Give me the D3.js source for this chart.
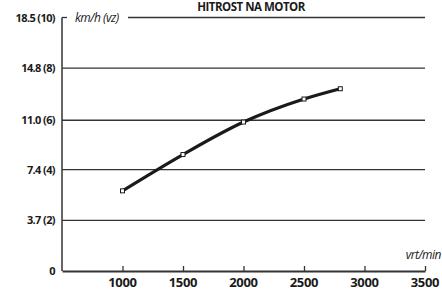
<!DOCTYPE html>
<html>
<head>
<meta charset="utf-8">
<script src="https://cdn.jsdelivr.net/npm/d3@7"></script>
<style>
  body { margin: 0; background: #fff; }
  text { font-family: "Open Sans", Lato, sans-serif; fill: #1a1a1a; }
</style>
</head>
<body>
<script>
// data
var rpm = [1000, 1500, 2000, 2500, 2800];
var speed = [5.85, 8.5, 10.87, 12.55, 13.3];
var yTicks = [0, 3.7, 7.4, 11.0, 14.8, 18.5];
var yTickLabels = ["0", "3.7 (2)", "7.4 (4)", "11.0 (6)", "14.8 (8)", "18.5 (10)"];
var xTicks = [1000, 1500, 2000, 2500, 3000, 3500];

var width = 442, height = 289;

var x = d3.scaleLinear().domain([500, 3500]).range([62, 425]);
var y = d3.scaleLinear().domain([0, 18.5]).range([271, 17.5]);

var svg = d3.select("body").append("svg")
    .attr("width", width)
    .attr("height", height);

// title
svg.append("text")
    .attr("x", 251)
    .attr("y", 11)
    .attr("text-anchor", "middle")
    .style("font-size", "11.5px")
    .style("font-weight", "bold")
    .style("letter-spacing", "-0.5px")
    .text("HITROST NA MOTOR");

// gridlines (skip 0 and top)
svg.selectAll(".grid")
    .data(yTicks.slice(1, 5))
    .enter().append("line")
    .attr("class", "grid")
    .attr("x1", x(500)).attr("x2", x(3500))
    .attr("y1", d => y(d)).attr("y2", d => y(d))
    .attr("stroke", "#333")
    .attr("stroke-width", 1.3);

// top line with gap for unit label
svg.append("line")
    .attr("x1", x(500)).attr("x2", x(500) + 5)
    .attr("y1", y(18.5)).attr("y2", y(18.5))
    .attr("stroke", "#333").attr("stroke-width", 1.3);
svg.append("line")
    .attr("x1", 128).attr("x2", x(3500))
    .attr("y1", y(18.5)).attr("y2", y(18.5))
    .attr("stroke", "#333").attr("stroke-width", 1.3);
svg.append("text")
    .attr("x", 75)
    .attr("y", 21.5)
    .style("font-size", "12px")
    .style("font-style", "italic")
    .style("letter-spacing", "-0.5px")
    .text("km/h (vz)");

// y axis line
svg.append("line")
    .attr("x1", x(500)).attr("x2", x(500))
    .attr("y1", y(18.5)).attr("y2", y(0))
    .attr("stroke", "#333").attr("stroke-width", 1.5);

// x axis
var xAxis = d3.axisTop(x)
    .tickValues(xTicks)
    .tickSize(5)
    .tickSizeOuter(0)
    .tickFormat("");
var gx = svg.append("g")
    .attr("transform", "translate(0," + y(0) + ")")
    .call(xAxis);
gx.select(".domain").attr("stroke", "#333").attr("stroke-width", 1.8);
gx.selectAll(".tick line").attr("stroke", "#333").attr("stroke-width", 1.3);

svg.selectAll(".xlab")
    .data(xTicks)
    .enter().append("text")
    .attr("class", "xlab")
    .attr("x", d => x(d))
    .attr("y", 286.5)
    .attr("text-anchor", "middle")
    .style("font-size", "13px")
    .style("font-weight", "bold")
    .style("letter-spacing", "-0.3px")
    .text(d => d);

svg.append("text")
    .attr("x", 441)
    .attr("y", 259)
    .attr("text-anchor", "end")
    .style("font-size", "12px")
    .style("font-style", "italic")
    .style("letter-spacing", "-0.5px")
    .text("vrt/min");

// y tick labels
svg.selectAll(".ylab")
    .data(yTicks)
    .enter().append("text")
    .attr("class", "ylab")
    .attr("x", 55)
    .attr("y", d => y(d) + 4)
    .attr("text-anchor", "end")
    .style("font-size", "11px")
    .style("font-weight", "bold")
    .style("letter-spacing", "-0.6px")
    .text((d, i) => yTickLabels[i]);

// line
var pts = rpm.map((r, i) => [r, speed[i]]);
var line = d3.line()
    .x(d => x(d[0]))
    .y(d => y(d[1]))
    .curve(d3.curveMonotoneX);
svg.append("path")
    .datum(pts)
    .attr("d", line)
    .attr("fill", "none")
    .attr("stroke", "#1a1a1a")
    .attr("stroke-width", 3.2);

svg.selectAll(".pt")
    .data(pts)
    .enter().append("rect")
    .attr("class", "pt")
    .attr("x", d => x(d[0]) - 2)
    .attr("y", d => y(d[1]) - 2)
    .attr("width", 4)
    .attr("height", 4)
    .attr("fill", "#fff")
    .attr("stroke", "#1a1a1a")
    .attr("stroke-width", 1);
</script>
</body>
</html>
